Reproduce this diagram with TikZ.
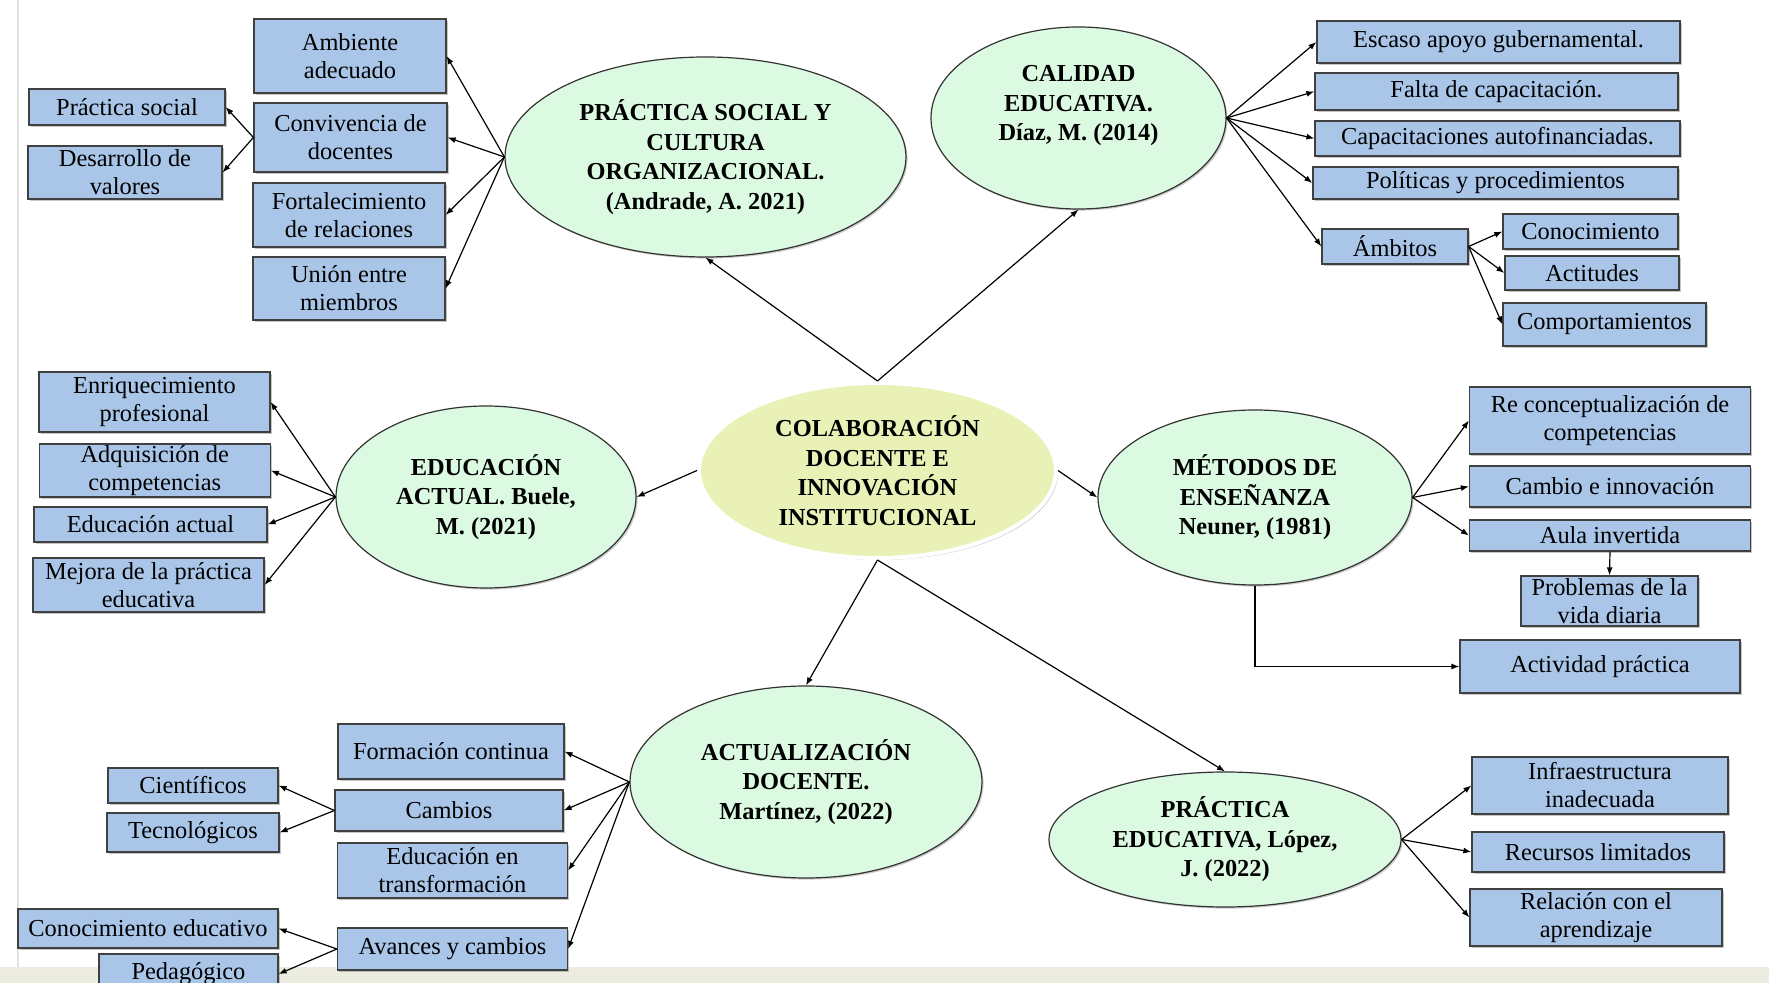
\documentclass[tikz,border=0pt]{standalone}
\usepackage{fontspec}
\setmainfont{Liberation Serif}
\usetikzlibrary{shapes.geometric,shadows,arrows.meta}
\definecolor{cajaazul}{RGB}{169,198,233}
\definecolor{verdementa}{RGB}{220,250,226}
\definecolor{verdelima}{RGB}{233,241,182}
\definecolor{franja}{RGB}{236,236,224}
\begin{document}
\begin{tikzpicture}[x=0.5pt, y=-0.5pt, >={Latex[length=4pt,width=3pt]}, ->, line width=0.6pt,
	caja/.style={rectangle, draw=black!75, fill=cajaazul, align=center, inner sep=0pt, font=\fontsize{12.2}{14}\selectfont, drop shadow={shadow xshift=0.8pt, shadow yshift=-0.8pt, fill=black!45, opacity=0.5}},
	elipse/.style={ellipse, draw=black!80, fill=verdementa, align=center, inner sep=0pt, font=\bfseries\fontsize{12.2}{14.8}\selectfont, drop shadow={shadow xshift=0.8pt, shadow yshift=-0.8pt, fill=black!40, opacity=0.5}},
	central/.style={ellipse, draw=white, line width=2pt, fill=verdelima, align=center, inner sep=0pt, font=\bfseries\fontsize{12.2}{14.8}\selectfont, drop shadow={shadow xshift=1pt, shadow yshift=-1pt, fill=black!35, opacity=0.6}}]
		% fondo
		\useasboundingbox (0,0) rectangle (1769,983);
		\clip (0,0) rectangle (1769,983);
		\fill[franja] (0,967) rectangle (1769,983);
		\draw[-, black!12, line width=1pt] (18,0) -- (18,967);

		% elipses
		\node[central, minimum width=178.5pt, minimum height=87.5pt] (COL) at (877.5,470.5) {COLABORACIÓN\\DOCENTE E\\INNOVACIÓN\\INSTITUCIONAL};
		\node[elipse, minimum width=200.5pt, minimum height=100pt] (E_PS) at (705.5,157) {PRÁCTICA SOCIAL Y\\CULTURA\\ORGANIZACIONAL.\\(Andrade, A. 2021)};
		\node[elipse, minimum width=147.5pt, minimum height=91pt] (E_CE) at (1078.5,118) {CALIDAD\\EDUCATIVA.\\Díaz, M. (2014)\\~};
		\node[elipse, minimum width=150pt, minimum height=91pt] (E_EA) at (486,497) {EDUCACIÓN\\ACTUAL. Buele,\\M. (2021)};
		\node[elipse, minimum width=157pt, minimum height=87.5pt] (E_ME) at (1255,497.5) {MÉTODOS DE\\ENSEÑANZA\\Neuner, (1981)};
		\node[elipse, minimum width=176pt, minimum height=96pt] (E_AD) at (806,782) {ACTUALIZACIÓN\\DOCENTE.\\Martínez, (2022)};
		\node[elipse, minimum width=176pt, minimum height=67.5pt] (E_PE) at (1225,839.5) {PRÁCTICA\\EDUCATIVA, López,\\J. (2022)};

		% práctica social y cultura organizacional
		\node[caja, minimum width=96pt, minimum height=37pt] (B_amb) at (350,56) {Ambiente\\adecuado};
		\node[caja, minimum width=98pt, minimum height=18pt] (B_psoc) at (127,107) {Práctica social};
		\node[caja, minimum width=96.5pt, minimum height=34.5pt] (B_conv) at (350.5,137.5) {Convivencia de\\docentes};
		\node[caja, minimum width=97pt, minimum height=26.5pt] (B_desv) at (125,172.5) {Desarrollo de\\valores};
		\node[caja, minimum width=96pt, minimum height=32pt] (B_fort) at (349,215) {Fortalecimiento\\de relaciones};
		\node[caja, minimum width=96pt, minimum height=31.5pt] (B_union) at (349,288.5) {Unión entre\\miembros};

		% calidad educativa
		\node[caja, minimum width=181.5pt, minimum height=21pt] (B_esc) at (1498.5,42) {Escaso apoyo gubernamental.};
		\node[caja, minimum width=181.5pt, minimum height=18.5pt] (B_falta) at (1496.5,91.5) {Falta de capacitación.};
		\node[caja, minimum width=182.5pt, minimum height=17.5pt] (B_capa) at (1497.5,138.5) {Capacitaciones autofinanciadas.};
		\node[caja, minimum width=182.5pt, minimum height=16pt] (B_pol) at (1495.5,183) {Políticas y procedimientos};
		\node[caja, minimum width=73pt, minimum height=17.5pt] (B_ambi) at (1395,246.5) {Ámbitos};
		\node[caja, minimum width=87.5pt, minimum height=17.5pt] (B_cono) at (1590.5,231.5) {Conocimiento};
		\node[caja, minimum width=87pt, minimum height=17pt] (B_acti) at (1592,273) {Actitudes};
		\node[caja, minimum width=101.5pt, minimum height=21.5pt] (B_comp) at (1604.5,324.5) {Comportamientos};

		% educación actual
		\node[caja, minimum width=115.5pt, minimum height=30pt] (B_enr) at (154.5,402) {Enriquecimiento\\profesional};
		\node[caja, minimum width=115.5pt, minimum height=26.5pt] (B_adq) at (154.75,470.5) {Adquisición de\\competencias};
		\node[caja, minimum width=116.5pt, minimum height=17.5pt] (B_edact) at (150.5,524.5) {Educación actual};
		\node[caja, minimum width=115.5pt, minimum height=27pt] (B_mej) at (148.5,585) {Mejora de la práctica\\educativa};

		% métodos de enseñanza
		\node[caja, minimum width=140.5pt, minimum height=33.5pt] (B_recon) at (1610,420.5) {Re conceptualización de\\competencias};
		\node[caja, minimum width=140.5pt, minimum height=20.5pt] (B_camb) at (1610,486.5) {Cambio e innovación};
		\node[caja, minimum width=140.5pt, minimum height=15.5pt] (B_aula) at (1610,535.5) {Aula invertida};
		\node[caja, minimum width=88.5pt, minimum height=25pt] (B_prob) at (1609.5,601) {Problemas de la\\vida diaria};
		\node[caja, minimum width=140pt, minimum height=26.5pt] (B_actp) at (1600,666.5) {Actividad práctica};

		% actualización docente
		\node[caja, minimum width=113pt, minimum height=27.5pt] (B_form) at (451,751.5) {Formación continua};
		\node[caja, minimum width=85pt, minimum height=17.5pt] (B_cient) at (193,785.5) {Científicos};
		\node[caja, minimum width=114pt, minimum height=20.5pt] (B_cambs) at (449,810.5) {Cambios};
		\node[caja, minimum width=86pt, minimum height=19.5pt] (B_tecn) at (193,832.5) {Tecnológicos};
		\node[caja, minimum width=115pt, minimum height=27.5pt] (B_edtr) at (452.5,870.5) {Educación en\\transformación};
		\node[caja, minimum width=130pt, minimum height=19.5pt] (B_coned) at (148,928.5) {Conocimiento educativo};
		\node[caja, minimum width=89.5pt, minimum height=20pt] (B_ped) at (188.5,974) {Pedagógico};
		\node[caja, minimum width=115pt, minimum height=21pt] (B_avan) at (452.5,949) {Avances y cambios};

		% práctica educativa
		\node[caja, minimum width=128pt, minimum height=28.5pt] (B_infra) at (1600,785.5) {Infraestructura\\inadecuada};
		\node[caja, minimum width=126pt, minimum height=20pt] (B_recu) at (1598,852) {Recursos limitados};
		\node[caja, minimum width=126pt, minimum height=28.5pt] (B_rela) at (1596,917.5) {Relación con el\\aprendizaje};

		% conectores desde el centro
		\draw (COL.north) -- (E_PS.south);
		\draw (COL.north) -- (E_CE.south);
		\draw (COL.west) -- (E_EA.east);
		\draw (COL.east) -- (E_ME.west);
		\draw (COL.south) -- (E_AD.north);
		\draw (COL.south) -- (E_PE.north);

		\draw (E_PS.west) -- (B_amb.east);
		\draw (E_PS.west) -- (B_conv.east);
		\draw (E_PS.west) -- (B_fort.east);
		\draw (E_PS.west) -- (B_union.east);
		\draw (B_conv.west) -- (B_psoc.east);
		\draw (B_conv.west) -- (B_desv.east);

		\draw (E_CE.east) -- (B_esc.west);
		\draw (E_CE.east) -- (B_falta.west);
		\draw (E_CE.east) -- (B_capa.west);
		\draw (E_CE.east) -- (B_pol.west);
		\draw (E_CE.east) -- (B_ambi.west);
		\draw (B_ambi.east) -- (B_cono.west);
		\draw (B_ambi.east) -- (B_acti.west);
		\draw (B_ambi.east) -- (B_comp.west);

		\draw (E_EA.west) -- (B_enr.east);
		\draw (E_EA.west) -- (B_adq.east);
		\draw (E_EA.west) -- (B_edact.east);
		\draw (E_EA.west) -- (B_mej.east);

		\draw (E_ME.east) -- (B_recon.west);
		\draw (E_ME.east) -- (B_camb.west);
		\draw (E_ME.east) -- (B_aula.west);
		\draw (B_aula.south) -- (B_prob.north);
		\draw (E_ME.south) |- (B_actp.west);

		\draw (E_AD.west) -- (B_form.east);
		\draw (E_AD.west) -- (B_cambs.east);
		\draw (E_AD.west) -- (B_edtr.east);
		\draw (E_AD.west) -- (B_avan.east);
		\draw (B_cambs.west) -- (B_cient.east);
		\draw (B_cambs.west) -- (B_tecn.east);
		\draw (B_avan.west) -- (B_coned.east);
		\draw (B_avan.west) -- (B_ped.east);

		\draw (E_PE.east) -- (B_infra.west);
		\draw (E_PE.east) -- (B_recu.west);
		\draw (E_PE.east) -- (B_rela.west);
	\end{tikzpicture}
\end{document}
